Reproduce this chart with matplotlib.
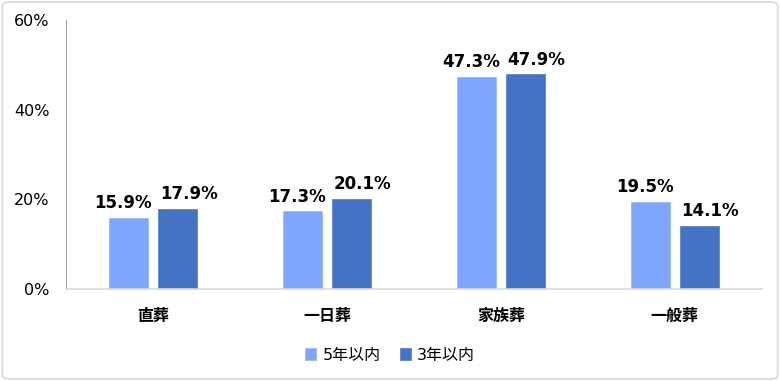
import numpy as np
import matplotlib.pyplot as plt
from matplotlib.patches import FancyBboxPatch

plt.rcParams['font.family'] = ['DejaVu Sans', 'Noto Sans CJK JP']

# data
categories = ['直葬', '一日葬', '家族葬', '一般葬']
within5 = [15.9, 17.3, 47.3, 19.5]
within3 = [17.9, 20.1, 47.9, 14.1]
series_names = ['5年以内', '3年以内']

light = '#7FA6FF'
dark = '#4472C4'

fig = plt.figure(figsize=(7.8, 3.81), dpi=100)
ax = fig.add_axes([0.0846, 0.2415, 0.892, 0.706])

x = np.arange(len(categories))
w = 0.224
off = 0.141
b1 = ax.bar(x - off, within5, w, color=light, edgecolor='#9DBBFF', linewidth=0.6, label=series_names[0])
b2 = ax.bar(x + off, within3, w, color=dark, edgecolor='#5B85D0', linewidth=0.6, label=series_names[1])

# labels nudged apart like the original
for bars, vals, dx in [(b1, within5, -4), (b2, within3, 8)]:
    for r, v in zip(bars, vals):
        ax.annotate(f'{v:.1f}%', (r.get_x() + r.get_width() / 2, v), xytext=(dx, 4),
                    textcoords='offset points', ha='center', va='bottom',
                    fontsize=12, fontweight='bold', color='black')

ax.set_xlim(-0.5, 3.5)
ax.set_ylim(0, 60)
ax.set_yticks([0, 20, 40, 60])
ax.set_yticklabels(['0%', '20%', '40%', '60%'], fontsize=11.5)
ax.set_xticks(x)
ax.set_xticklabels(categories, fontsize=11.5, fontweight='bold')
ax.tick_params(length=0, pad=12)
ax.tick_params(axis='x', pad=14)
for s in ['top', 'right']:
    ax.spines[s].set_visible(False)
ax.spines['left'].set_color('#A6A6A6')
ax.spines['bottom'].set_color('#D9D9D9')
ax.spines['bottom'].set_linewidth(1.2)

fig.legend(handles=[b1, b2], loc='center', bbox_to_anchor=(0.5, 0.068), ncol=2, frameon=False,
           fontsize=11.5, handlelength=0.7, handleheight=0.7, handletextpad=0.4, columnspacing=1.2)

border = FancyBboxPatch((0.003, 0.005), 0.994, 0.99, boxstyle='round,pad=0,rounding_size=0.01',
                        transform=fig.transFigure, fill=False, edgecolor='#D9D9D9', linewidth=1.2)
fig.patches.append(border)

fig.savefig('out.png', dpi=100)
